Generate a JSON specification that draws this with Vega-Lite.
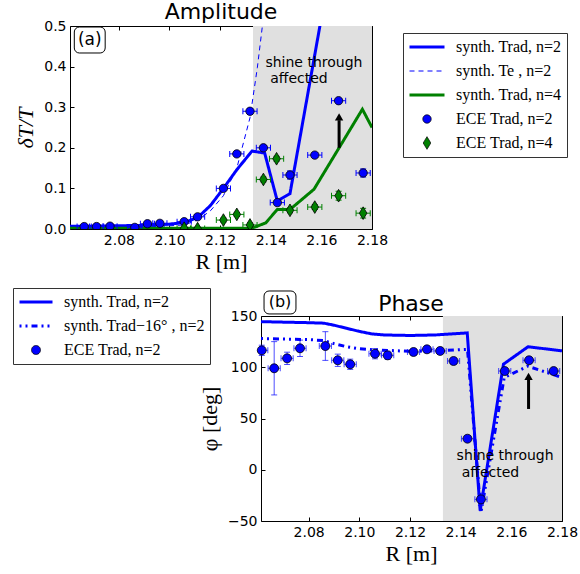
{
  "$schema": "https://vega.github.io/schema/vega-lite/v6.json",
  "padding": {"left": 12, "top": 0, "right": 2, "bottom": 2},
  "columns": 1,
  "spacing": 14,
  "resolve": {
    "scale": {"color": "independent", "fill": "independent", "stroke": "independent", "shape": "independent", "size": "independent", "strokeDash": "independent", "strokeWidth": "independent"},
    "legend": {"color": "independent", "fill": "independent", "stroke": "independent", "shape": "independent", "size": "independent", "strokeDash": "independent", "strokeWidth": "independent"}
  },
  "datasets": {
    "ampLines": [
      {"series": "synth. Trad, n=2", "R": 2.0607, "v": 0.007},
      {"series": "synth. Trad, n=2", "R": 2.07, "v": 0.007},
      {"series": "synth. Trad, n=2", "R": 2.08, "v": 0.008},
      {"series": "synth. Trad, n=2", "R": 2.09, "v": 0.009},
      {"series": "synth. Trad, n=2", "R": 2.095, "v": 0.010},
      {"series": "synth. Trad, n=2", "R": 2.1, "v": 0.012},
      {"series": "synth. Trad, n=2", "R": 2.1058, "v": 0.016},
      {"series": "synth. Trad, n=2", "R": 2.1111, "v": 0.028},
      {"series": "synth. Trad, n=2", "R": 2.1162, "v": 0.058},
      {"series": "synth. Trad, n=2", "R": 2.1213, "v": 0.100},
      {"series": "synth. Trad, n=2", "R": 2.1266, "v": 0.146},
      {"series": "synth. Trad, n=2", "R": 2.1326, "v": 0.192},
      {"series": "synth. Trad, n=2", "R": 2.1376, "v": 0.187},
      {"series": "synth. Trad, n=2", "R": 2.1426, "v": 0.069},
      {"series": "synth. Trad, n=2", "R": 2.1476, "v": 0.087},
      {"series": "synth. Trad, n=2", "R": 2.162, "v": 0.59},
      {"series": "synth. Te , n=2", "R": 2.0607, "v": 0.004},
      {"series": "synth. Te , n=2", "R": 2.08, "v": 0.004},
      {"series": "synth. Te , n=2", "R": 2.095, "v": 0.006},
      {"series": "synth. Te , n=2", "R": 2.1058, "v": 0.010},
      {"series": "synth. Te , n=2", "R": 2.1111, "v": 0.022},
      {"series": "synth. Te , n=2", "R": 2.1162, "v": 0.045},
      {"series": "synth. Te , n=2", "R": 2.1213, "v": 0.082},
      {"series": "synth. Te , n=2", "R": 2.1266, "v": 0.150},
      {"series": "synth. Te , n=2", "R": 2.1318, "v": 0.274},
      {"series": "synth. Te , n=2", "R": 2.1347, "v": 0.397},
      {"series": "synth. Te , n=2", "R": 2.1367, "v": 0.500},
      {"series": "synth. Te , n=2", "R": 2.139, "v": 0.62},
      {"series": "synth. Trad, n=4", "R": 2.0607, "v": 0.002},
      {"series": "synth. Trad, n=4", "R": 2.128, "v": 0.002},
      {"series": "synth. Trad, n=4", "R": 2.1326, "v": 0.002},
      {"series": "synth. Trad, n=4", "R": 2.138, "v": 0.015},
      {"series": "synth. Trad, n=4", "R": 2.1426, "v": 0.048},
      {"series": "synth. Trad, n=4", "R": 2.1476, "v": 0.048},
      {"series": "synth. Trad, n=4", "R": 2.1571, "v": 0.098},
      {"series": "synth. Trad, n=4", "R": 2.167, "v": 0.200},
      {"series": "synth. Trad, n=4", "R": 2.1762, "v": 0.295},
      {"series": "synth. Trad, n=4", "R": 2.18, "v": 0.25}
    ],
    "ampPts": [
      {"series": "ECE Trad, n=2", "R": 2.0663, "v": 0.006, "xlo": 2.0635, "xhi": 2.0691, "ylo": 0.003, "yhi": 0.009},
      {"series": "ECE Trad, n=2", "R": 2.0712, "v": 0.006, "xlo": 2.0684, "xhi": 2.074, "ylo": 0.003, "yhi": 0.009},
      {"series": "ECE Trad, n=2", "R": 2.0765, "v": 0.007, "xlo": 2.0737, "xhi": 2.0793, "ylo": 0.004, "yhi": 0.010},
      {"series": "ECE Trad, n=2", "R": 2.0863, "v": 0.004, "xlo": 2.0835, "xhi": 2.0891, "ylo": 0.001, "yhi": 0.007},
      {"series": "ECE Trad, n=2", "R": 2.0913, "v": 0.013, "xlo": 2.0885, "xhi": 2.0941, "ylo": 0.009, "yhi": 0.017},
      {"series": "ECE Trad, n=2", "R": 2.0962, "v": 0.014, "xlo": 2.0934, "xhi": 2.099, "ylo": 0.010, "yhi": 0.018},
      {"series": "ECE Trad, n=2", "R": 2.1058, "v": 0.018, "xlo": 2.103, "xhi": 2.1086, "ylo": 0.014, "yhi": 0.022},
      {"series": "ECE Trad, n=2", "R": 2.1111, "v": 0.030, "xlo": 2.1083, "xhi": 2.1139, "ylo": 0.026, "yhi": 0.034},
      {"series": "ECE Trad, n=2", "R": 2.1213, "v": 0.100, "xlo": 2.1185, "xhi": 2.1241, "ylo": 0.096, "yhi": 0.104},
      {"series": "ECE Trad, n=2", "R": 2.1266, "v": 0.185, "xlo": 2.1238, "xhi": 2.1294, "ylo": 0.180, "yhi": 0.190},
      {"series": "ECE Trad, n=2", "R": 2.1318, "v": 0.290, "xlo": 2.129, "xhi": 2.1346, "ylo": 0.285, "yhi": 0.295},
      {"series": "ECE Trad, n=2", "R": 2.1371, "v": 0.200, "xlo": 2.1343, "xhi": 2.1399, "ylo": 0.195, "yhi": 0.205},
      {"series": "ECE Trad, n=2", "R": 2.1426, "v": 0.065, "xlo": 2.1398, "xhi": 2.1454, "ylo": 0.060, "yhi": 0.070},
      {"series": "ECE Trad, n=2", "R": 2.1476, "v": 0.133, "xlo": 2.1448, "xhi": 2.1504, "ylo": 0.123, "yhi": 0.143},
      {"series": "ECE Trad, n=2", "R": 2.1574, "v": 0.182, "xlo": 2.1546, "xhi": 2.1602, "ylo": 0.177, "yhi": 0.187},
      {"series": "ECE Trad, n=2", "R": 2.1668, "v": 0.316, "xlo": 2.164, "xhi": 2.1696, "ylo": 0.311, "yhi": 0.321},
      {"series": "ECE Trad, n=2", "R": 2.1765, "v": 0.138, "xlo": 2.1737, "xhi": 2.1793, "ylo": 0.128, "yhi": 0.148},
      {"series": "ECE Trad, n=4", "R": 2.1058, "v": 0.002, "xlo": 2.103, "xhi": 2.1086, "ylo": 0.000, "yhi": 0.004},
      {"series": "ECE Trad, n=4", "R": 2.1111, "v": 0.001, "xlo": 2.1083, "xhi": 2.1139, "ylo": -0.002, "yhi": 0.004},
      {"series": "ECE Trad, n=4", "R": 2.1213, "v": 0.022, "xlo": 2.1185, "xhi": 2.1241, "ylo": 0.017, "yhi": 0.027},
      {"series": "ECE Trad, n=4", "R": 2.1266, "v": 0.036, "xlo": 2.1238, "xhi": 2.1294, "ylo": 0.031, "yhi": 0.041},
      {"series": "ECE Trad, n=4", "R": 2.1318, "v": 0.010, "xlo": 2.129, "xhi": 2.1346, "ylo": 0.005, "yhi": 0.015},
      {"series": "ECE Trad, n=4", "R": 2.1371, "v": 0.122, "xlo": 2.1343, "xhi": 2.1399, "ylo": 0.116, "yhi": 0.128},
      {"series": "ECE Trad, n=4", "R": 2.1423, "v": 0.173, "xlo": 2.1395, "xhi": 2.1451, "ylo": 0.167, "yhi": 0.179},
      {"series": "ECE Trad, n=4", "R": 2.1476, "v": 0.046, "xlo": 2.1448, "xhi": 2.1504, "ylo": 0.040, "yhi": 0.052},
      {"series": "ECE Trad, n=4", "R": 2.1574, "v": 0.054, "xlo": 2.1546, "xhi": 2.1602, "ylo": 0.048, "yhi": 0.060},
      {"series": "ECE Trad, n=4", "R": 2.1668, "v": 0.082, "xlo": 2.164, "xhi": 2.1696, "ylo": 0.071, "yhi": 0.093},
      {"series": "ECE Trad, n=4", "R": 2.1765, "v": 0.039, "xlo": 2.1737, "xhi": 2.1793, "ylo": 0.027, "yhi": 0.051}
    ],
    "phLines": [
      {"series": "synth. Trad, n=2", "R": 2.0612, "v": 144.5},
      {"series": "synth. Trad, n=2", "R": 2.07, "v": 144},
      {"series": "synth. Trad, n=2", "R": 2.08, "v": 143.5},
      {"series": "synth. Trad, n=2", "R": 2.086, "v": 143},
      {"series": "synth. Trad, n=2", "R": 2.09, "v": 141},
      {"series": "synth. Trad, n=2", "R": 2.095, "v": 138},
      {"series": "synth. Trad, n=2", "R": 2.1, "v": 135},
      {"series": "synth. Trad, n=2", "R": 2.105, "v": 132.5},
      {"series": "synth. Trad, n=2", "R": 2.11, "v": 131.5},
      {"series": "synth. Trad, n=2", "R": 2.12, "v": 131},
      {"series": "synth. Trad, n=2", "R": 2.13, "v": 131.5},
      {"series": "synth. Trad, n=2", "R": 2.1426, "v": 133.5},
      {"series": "synth. Trad, n=2", "R": 2.1477, "v": -40},
      {"series": "synth. Trad, n=2", "R": 2.1569, "v": 103},
      {"series": "synth. Trad, n=2", "R": 2.1666, "v": 120},
      {"series": "synth. Trad, n=2", "R": 2.18, "v": 116},
      {"series": "synth. Trad−16° , n=2", "R": 2.0612, "v": 128},
      {"series": "synth. Trad−16° , n=2", "R": 2.08, "v": 127},
      {"series": "synth. Trad−16° , n=2", "R": 2.086, "v": 126},
      {"series": "synth. Trad−16° , n=2", "R": 2.09, "v": 123},
      {"series": "synth. Trad−16° , n=2", "R": 2.095, "v": 120},
      {"series": "synth. Trad−16° , n=2", "R": 2.1, "v": 118},
      {"series": "synth. Trad−16° , n=2", "R": 2.106, "v": 117},
      {"series": "synth. Trad−16° , n=2", "R": 2.12, "v": 115.5},
      {"series": "synth. Trad−16° , n=2", "R": 2.13, "v": 116},
      {"series": "synth. Trad−16° , n=2", "R": 2.1427, "v": 117.5},
      {"series": "synth. Trad−16° , n=2", "R": 2.148, "v": -42},
      {"series": "synth. Trad−16° , n=2", "R": 2.1572, "v": 90},
      {"series": "synth. Trad−16° , n=2", "R": 2.1665, "v": 101},
      {"series": "synth. Trad−16° , n=2", "R": 2.18, "v": 90}
    ],
    "phPts": [
      {"series": "ECE Trad, n=2", "R": 2.0615, "v": 116.5, "xlo": 2.0612, "xhi": 2.0639, "ylo": 111.5, "yhi": 121.5},
      {"series": "ECE Trad, n=2", "R": 2.0664, "v": 99, "xlo": 2.064, "xhi": 2.0688, "ylo": 73, "yhi": 125},
      {"series": "ECE Trad, n=2", "R": 2.0715, "v": 108.7, "xlo": 2.0691, "xhi": 2.0739, "ylo": 102.7, "yhi": 114.7},
      {"series": "ECE Trad, n=2", "R": 2.0766, "v": 118.5, "xlo": 2.0742, "xhi": 2.079, "ylo": 110.5, "yhi": 126.5},
      {"series": "ECE Trad, n=2", "R": 2.0866, "v": 120.7, "xlo": 2.0842, "xhi": 2.089, "ylo": 106.7, "yhi": 134.7},
      {"series": "ECE Trad, n=2", "R": 2.0915, "v": 106.8, "xlo": 2.0891, "xhi": 2.0939, "ylo": 100.8, "yhi": 112.8},
      {"series": "ECE Trad, n=2", "R": 2.0964, "v": 102.9, "xlo": 2.094, "xhi": 2.0988, "ylo": 97.9, "yhi": 107.9},
      {"series": "ECE Trad, n=2", "R": 2.1062, "v": 113.2, "xlo": 2.1038, "xhi": 2.1086, "ylo": 108.2, "yhi": 118.2},
      {"series": "ECE Trad, n=2", "R": 2.1112, "v": 111.6, "xlo": 2.1088, "xhi": 2.1136, "ylo": 107.6, "yhi": 115.6},
      {"series": "ECE Trad, n=2", "R": 2.1214, "v": 114.9, "xlo": 2.119, "xhi": 2.1238, "ylo": 111.9, "yhi": 117.9},
      {"series": "ECE Trad, n=2", "R": 2.1267, "v": 117.5, "xlo": 2.1243, "xhi": 2.1291, "ylo": 114.5, "yhi": 120.5},
      {"series": "ECE Trad, n=2", "R": 2.1319, "v": 115.9, "xlo": 2.1295, "xhi": 2.1343, "ylo": 112.9, "yhi": 118.9},
      {"series": "ECE Trad, n=2", "R": 2.1372, "v": 106.1, "xlo": 2.1348, "xhi": 2.1396, "ylo": 103.1, "yhi": 109.1},
      {"series": "ECE Trad, n=2", "R": 2.1427, "v": 30.3, "xlo": 2.1403, "xhi": 2.1451, "ylo": 27.3, "yhi": 33.3},
      {"series": "ECE Trad, n=2", "R": 2.148, "v": -28.9, "xlo": 2.1456, "xhi": 2.1504, "ylo": -34.9, "yhi": -22.9},
      {"series": "ECE Trad, n=2", "R": 2.1574, "v": 96.3, "xlo": 2.155, "xhi": 2.1598, "ylo": 93.3, "yhi": 99.3},
      {"series": "ECE Trad, n=2", "R": 2.167, "v": 106.8, "xlo": 2.1646, "xhi": 2.1694, "ylo": 103.8, "yhi": 109.8},
      {"series": "ECE Trad, n=2", "R": 2.1767, "v": 96.3, "xlo": 2.1743, "xhi": 2.1791, "ylo": 93.3, "yhi": 99.3}
    ]
  },
  "concat": [
    {
      "width": 302,
      "height": 203,
      "title": {"text": "Amplitude", "frame": "group", "offset": -5},
      "resolve": {"axis": {"x": "independent", "y": "independent"}},
      "layer": [
        {
          "data": {"values": [{"R": 2.133, "R2": 2.18}]},
          "mark": {"type": "rect", "color": "#e0e0e0"},
          "encoding": {
            "x": {"field": "R", "type": "quantitative", "scale": {"domain": [2.0607, 2.18], "nice": false, "zero": false},
                  "axis": {"title": "R [m]", "values": [2.08, 2.1, 2.12, 2.14, 2.16, 2.18], "format": ".2f"}},
            "x2": {"field": "R2"}
          }
        },
        {
          "data": {"name": "ampLines"},
          "mark": {"type": "line", "clip": true},
          "encoding": {
            "x": {"field": "R", "type": "quantitative", "axis": {"orient": "top", "labels": false, "title": null, "values": [2.08, 2.1, 2.12, 2.14, 2.16, 2.18]}},
            "y": {"field": "v", "type": "quantitative", "scale": {"domain": [0, 0.5], "nice": false},
                  "axis": {"title": "δT/T", "values": [0, 0.1, 0.2, 0.3, 0.4, 0.5], "format": ".1f", "titleFontStyle": "italic"}},
            "stroke": {"field": "series", "type": "nominal",
              "scale": {"domain": ["synth. Trad, n=2", "synth. Te , n=2", "synth. Trad, n=4", "ECE Trad, n=2", "ECE Trad, n=4"], "range": ["#0000ff", "#0000ff", "#008000", "#000000", "#000000"]},
              "legend": {"title": null, "orient": "none", "legendX": 333, "legendY": 7}},
            "strokeDash": {"field": "series", "type": "nominal",
              "scale": {"domain": ["synth. Trad, n=2", "synth. Te , n=2", "synth. Trad, n=4", "ECE Trad, n=2", "ECE Trad, n=4"], "range": [[1, 0], [5, 4], [1, 0], [1, 0], [1, 0]]},
              "legend": {"title": null, "orient": "none", "legendX": 333, "legendY": 7}},
            "strokeWidth": {"field": "series", "type": "nominal",
              "scale": {"type": "ordinal", "domain": ["synth. Trad, n=2", "synth. Te , n=2", "synth. Trad, n=4", "ECE Trad, n=2", "ECE Trad, n=4"], "range": [3, 1, 3, 0.8, 0.8]},
              "legend": {"title": null, "orient": "none", "legendX": 333, "legendY": 7}}
          }
        },
        {
          "data": {"name": "ampPts"},
          "mark": {"type": "rule", "strokeWidth": 1, "clip": true},
          "encoding": {
            "x": {"field": "xlo", "type": "quantitative", "axis": null},
            "x2": {"field": "xhi"},
            "y": {"field": "v", "type": "quantitative", "axis": null},
            "color": {"field": "series", "type": "nominal", "scale": {"domain": ["ECE Trad, n=2", "ECE Trad, n=4"], "range": ["#0000ff", "#008000"]}, "legend": null}
          }
        },
        {
          "data": {"name": "ampPts"},
          "mark": {"type": "rule", "strokeWidth": 1, "clip": true},
          "encoding": {
            "x": {"field": "R", "type": "quantitative", "axis": null},
            "y": {"field": "ylo", "type": "quantitative", "axis": null},
            "y2": {"field": "yhi"},
            "color": {"field": "series", "type": "nominal", "legend": null}
          }
        },
        {
          "data": {"name": "ampPts"},
          "mark": {"type": "tick", "orient": "vertical", "size": 6, "thickness": 1, "opacity": 1, "clip": true},
          "encoding": {
            "x": {"field": "xlo", "type": "quantitative", "axis": null},
            "y": {"field": "v", "type": "quantitative", "axis": null},
            "color": {"field": "series", "type": "nominal", "legend": null}
          }
        },
        {
          "data": {"name": "ampPts"},
          "mark": {"type": "tick", "orient": "vertical", "size": 6, "thickness": 1, "opacity": 1, "clip": true},
          "encoding": {
            "x": {"field": "xhi", "type": "quantitative", "axis": null},
            "y": {"field": "v", "type": "quantitative", "axis": null},
            "color": {"field": "series", "type": "nominal", "legend": null}
          }
        },
        {
          "data": {"name": "ampPts"},
          "mark": {"type": "tick", "orient": "horizontal", "size": 6, "thickness": 1, "opacity": 1, "clip": true},
          "encoding": {
            "x": {"field": "R", "type": "quantitative", "axis": null},
            "y": {"field": "ylo", "type": "quantitative", "axis": null},
            "color": {"field": "series", "type": "nominal", "legend": null}
          }
        },
        {
          "data": {"name": "ampPts"},
          "mark": {"type": "tick", "orient": "horizontal", "size": 6, "thickness": 1, "opacity": 1, "clip": true},
          "encoding": {
            "x": {"field": "R", "type": "quantitative", "axis": null},
            "y": {"field": "yhi", "type": "quantitative", "axis": null},
            "color": {"field": "series", "type": "nominal", "legend": null}
          }
        },
        {
          "data": {"name": "ampPts"},
          "mark": {"type": "point", "filled": true, "opacity": 1, "strokeWidth": 0.8, "clip": true},
          "encoding": {
            "x": {"field": "R", "type": "quantitative", "axis": null},
            "y": {"field": "v", "type": "quantitative", "axis": {"orient": "right", "labels": false, "title": null, "values": [0, 0.1, 0.2, 0.3, 0.4, 0.5]}},
            "fill": {"field": "series", "type": "nominal",
              "scale": {"domain": ["synth. Trad, n=2", "synth. Te , n=2", "synth. Trad, n=4", "ECE Trad, n=2", "ECE Trad, n=4"], "range": ["transparent", "transparent", "transparent", "#0000ff", "#008000"]},
              "legend": {"title": null, "orient": "none", "legendX": 333, "legendY": 7}},
            "stroke": {"field": "series", "type": "nominal", "legend": {"title": null, "orient": "none", "legendX": 333, "legendY": 7}},
            "shape": {"field": "series", "type": "nominal",
              "scale": {"domain": ["synth. Trad, n=2", "synth. Te , n=2", "synth. Trad, n=4", "ECE Trad, n=2", "ECE Trad, n=4"], "range": ["stroke", "stroke", "stroke", "circle", "M0,-1L0.6,0L0,1L-0.6,0Z"]},
              "legend": {"title": null, "orient": "none", "legendX": 333, "legendY": 7}},
            "size": {"field": "series", "type": "nominal",
              "scale": {"type": "ordinal", "domain": ["synth. Trad, n=2", "synth. Te , n=2", "synth. Trad, n=4", "ECE Trad, n=2", "ECE Trad, n=4"], "range": [1225, 1225, 1225, 70, 160]},
              "legend": {"title": null, "orient": "none", "legendX": 333, "legendY": 7}}
          }
        },
        {
          "data": {"values": [{"R": 2.167, "v": 0.2, "v2": 0.268}]},
          "mark": {"type": "rule", "strokeWidth": 3, "color": "black"},
          "encoding": {"x": {"field": "R", "type": "quantitative", "axis": null}, "y": {"field": "v", "type": "quantitative", "axis": null}, "y2": {"field": "v2"}}
        },
        {
          "data": {"values": [{"R": 2.167, "v": 0.276}]},
          "mark": {"type": "point", "shape": "triangle-up", "filled": true, "color": "black", "opacity": 1, "size": 70},
          "encoding": {"x": {"field": "R", "type": "quantitative", "axis": null}, "y": {"field": "v", "type": "quantitative", "axis": null}}
        },
        {
          "data": {"values": [{"R": 2.1379, "v": 0.409, "t": "shine through"}, {"R": 2.1398, "v": 0.3695, "t": "affected"}]},
          "mark": {"type": "text", "align": "left", "baseline": "middle", "font": "DejaVu Sans", "fontSize": 14, "color": "black"},
          "encoding": {"x": {"field": "R", "type": "quantitative", "axis": null}, "y": {"field": "v", "type": "quantitative", "axis": null}, "text": {"field": "t"}}
        },
        {
          "data": {"values": [{"R": 2.0624, "R2": 2.0746, "v": 0.4975, "v2": 0.4335}]},
          "mark": {"type": "rect", "fill": "white", "stroke": "black", "strokeWidth": 1, "cornerRadius": 5},
          "encoding": {"x": {"field": "R", "type": "quantitative", "axis": null}, "x2": {"field": "R2"}, "y": {"field": "v", "type": "quantitative", "axis": null}, "y2": {"field": "v2"}}
        },
        {
          "data": {"values": [{"R": 2.0685, "v": 0.4655, "t": "(a)"}]},
          "mark": {"type": "text", "align": "center", "baseline": "middle", "font": "DejaVu Sans", "fontSize": 17, "color": "black"},
          "encoding": {"x": {"field": "R", "type": "quantitative", "axis": null}, "y": {"field": "v", "type": "quantitative", "axis": null}, "text": {"field": "t"}}
        }
      ]
    },
    {
      "width": 492,
      "height": 205,
      "view": {"stroke": null},
      "title": {"text": "Phase", "frame": "group", "offset": -28, "dx": 95},
      "resolve": {"axis": {"x": "independent", "y": "independent"}},
      "layer": [
        {
          "data": {"values": [{"R": 2.133, "R2": 2.18}]},
          "mark": {"type": "rect", "color": "#e0e0e0"},
          "encoding": {
            "x": {"field": "R", "type": "quantitative", "scale": {"domain": [2.0612, 2.18], "range": [191, 492], "nice": false, "zero": false},
                  "axis": {"title": "R [m]", "values": [2.08, 2.1, 2.12, 2.14, 2.16, 2.18], "format": ".2f", "domain": true, "domainColor": "black", "titleX": 341}},
            "x2": {"field": "R2"}
          }
        },
        {
          "data": {"name": "phLines"},
          "mark": {"type": "line", "clip": true},
          "encoding": {
            "x": {"field": "R", "type": "quantitative", "axis": {"orient": "top", "labels": false, "title": null, "values": [2.08, 2.1, 2.12, 2.14, 2.16, 2.18], "domain": true, "domainColor": "black"}},
            "y": {"field": "v", "type": "quantitative", "scale": {"domain": [-50, 150], "nice": false, "zero": false},
                  "axis": {"title": "φ [deg]", "values": [-50, 0, 50, 100, 150], "format": "d", "domain": true, "domainColor": "black", "offset": -191}},
            "stroke": {"field": "series", "type": "nominal",
              "scale": {"domain": ["synth. Trad, n=2", "synth. Trad−16° , n=2", "ECE Trad, n=2"], "range": ["#0000ff", "#0000ff", "#000000"]},
              "legend": {"title": null, "orient": "none", "legendX": -57, "legendY": -28}},
            "strokeDash": {"field": "series", "type": "nominal",
              "scale": {"domain": ["synth. Trad, n=2", "synth. Trad−16° , n=2", "ECE Trad, n=2"], "range": [[1, 0], [2, 4, 2, 4, 6, 4], [1, 0]]},
              "legend": {"title": null, "orient": "none", "legendX": -57, "legendY": -28}},
            "strokeWidth": {"field": "series", "type": "nominal",
              "scale": {"type": "ordinal", "domain": ["synth. Trad, n=2", "synth. Trad−16° , n=2", "ECE Trad, n=2"], "range": [3, 3, 0.8]},
              "legend": {"title": null, "orient": "none", "legendX": -57, "legendY": -28}}
          }
        },
        {
          "data": {"name": "phPts"},
          "mark": {"type": "rule", "strokeWidth": 1, "clip": true, "color": "#0000ff", "opacity": 0.7},
          "encoding": {
            "x": {"field": "xlo", "type": "quantitative", "axis": null},
            "x2": {"field": "xhi"},
            "y": {"field": "v", "type": "quantitative", "axis": null}
          }
        },
        {
          "data": {"name": "phPts"},
          "mark": {"type": "rule", "strokeWidth": 1, "clip": true, "color": "#0000ff", "opacity": 0.7},
          "encoding": {
            "x": {"field": "R", "type": "quantitative", "axis": null},
            "y": {"field": "ylo", "type": "quantitative", "axis": null},
            "y2": {"field": "yhi"}
          }
        },
        {
          "data": {"name": "phPts"},
          "mark": {"type": "tick", "orient": "vertical", "size": 6, "thickness": 1, "opacity": 0.7, "color": "#0000ff", "clip": true},
          "encoding": {"x": {"field": "xlo", "type": "quantitative", "axis": null}, "y": {"field": "v", "type": "quantitative", "axis": null}}
        },
        {
          "data": {"name": "phPts"},
          "mark": {"type": "tick", "orient": "vertical", "size": 6, "thickness": 1, "opacity": 0.7, "color": "#0000ff", "clip": true},
          "encoding": {"x": {"field": "xhi", "type": "quantitative", "axis": null}, "y": {"field": "v", "type": "quantitative", "axis": null}}
        },
        {
          "data": {"name": "phPts"},
          "mark": {"type": "tick", "orient": "horizontal", "size": 6, "thickness": 1, "opacity": 0.7, "color": "#0000ff", "clip": true},
          "encoding": {"x": {"field": "R", "type": "quantitative", "axis": null}, "y": {"field": "ylo", "type": "quantitative", "axis": null}}
        },
        {
          "data": {"name": "phPts"},
          "mark": {"type": "tick", "orient": "horizontal", "size": 6, "thickness": 1, "opacity": 0.7, "color": "#0000ff", "clip": true},
          "encoding": {"x": {"field": "R", "type": "quantitative", "axis": null}, "y": {"field": "yhi", "type": "quantitative", "axis": null}}
        },
        {
          "data": {"name": "phPts"},
          "mark": {"type": "point", "filled": true, "opacity": 1, "strokeWidth": 0.8, "clip": true},
          "encoding": {
            "x": {"field": "R", "type": "quantitative", "axis": null},
            "y": {"field": "v", "type": "quantitative", "axis": {"orient": "right", "labels": false, "title": null, "values": [-50, 0, 50, 100, 150], "domain": true, "domainColor": "black"}},
            "fill": {"field": "series", "type": "nominal",
              "scale": {"domain": ["synth. Trad, n=2", "synth. Trad−16° , n=2", "ECE Trad, n=2"], "range": ["transparent", "transparent", "#0000ff"]},
              "legend": {"title": null, "orient": "none", "legendX": -57, "legendY": -28}},
            "stroke": {"field": "series", "type": "nominal", "legend": {"title": null, "orient": "none", "legendX": -57, "legendY": -28}},
            "shape": {"field": "series", "type": "nominal",
              "scale": {"domain": ["synth. Trad, n=2", "synth. Trad−16° , n=2", "ECE Trad, n=2"], "range": ["stroke", "stroke", "circle"]},
              "legend": {"title": null, "orient": "none", "legendX": -57, "legendY": -28}},
            "size": {"field": "series", "type": "nominal",
              "scale": {"type": "ordinal", "domain": ["synth. Trad, n=2", "synth. Trad−16° , n=2", "ECE Trad, n=2"], "range": [1089, 1089, 80]},
              "legend": {"title": null, "orient": "none", "legendX": -57, "legendY": -28}}
          }
        },
        {
          "data": {"values": [{"R": 2.1668, "v": 59.3, "v2": 88}]},
          "mark": {"type": "rule", "strokeWidth": 3, "color": "black"},
          "encoding": {"x": {"field": "R", "type": "quantitative", "axis": null}, "y": {"field": "v", "type": "quantitative", "axis": null}, "y2": {"field": "v2"}}
        },
        {
          "data": {"values": [{"R": 2.1668, "v": 91}]},
          "mark": {"type": "point", "shape": "triangle-up", "filled": true, "color": "black", "opacity": 1, "size": 70},
          "encoding": {"x": {"field": "R", "type": "quantitative", "axis": null}, "y": {"field": "v", "type": "quantitative", "axis": null}}
        },
        {
          "data": {"values": [{"R": 2.1384, "v": 13.4, "t": "shine through"}, {"R": 2.1404, "v": -2.9, "t": "affected"}]},
          "mark": {"type": "text", "align": "left", "baseline": "middle", "font": "DejaVu Sans", "fontSize": 14, "color": "black"},
          "encoding": {"x": {"field": "R", "type": "quantitative", "axis": null}, "y": {"field": "v", "type": "quantitative", "axis": null}, "text": {"field": "t"}}
        },
        {
          "data": {"values": [{"R": 2.0624, "R2": 2.075, "v": 174.4, "v2": 152.0}]},
          "mark": {"type": "rect", "fill": "white", "stroke": "black", "strokeWidth": 1, "cornerRadius": 5},
          "encoding": {"x": {"field": "R", "type": "quantitative", "axis": null}, "x2": {"field": "R2"}, "y": {"field": "v", "type": "quantitative", "axis": null}, "y2": {"field": "v2"}}
        },
        {
          "data": {"values": [{"R": 2.0687, "v": 163.2, "t": "(b)"}]},
          "mark": {"type": "text", "align": "center", "baseline": "middle", "font": "DejaVu Sans", "fontSize": 16, "color": "black"},
          "encoding": {"x": {"field": "R", "type": "quantitative", "axis": null}, "y": {"field": "v", "type": "quantitative", "axis": null}, "text": {"field": "t"}}
        }
      ]
    }
  ],
  "config": {
    "view": {"stroke": "black", "strokeWidth": 1},
    "axis": {"domain": false, "grid": false, "labelFlush": false, "labelFont": "DejaVu Sans", "labelFontSize": 14, "labelColor": "black", "tickColor": "black", "tickSize": -4, "labelPadding": 8, "titleFont": "Liberation Serif", "titleFontSize": 22, "titleFontWeight": "normal", "titleColor": "black"},
    "axisX": {"titlePadding": 4},
    "axisY": {"titlePadding": 6},
    "legend": {"labelFont": "Liberation Serif", "labelFontSize": 16, "labelColor": "black", "strokeColor": "#333333", "fillColor": "white", "padding": 5, "labelOffset": 10, "rowPadding": 6, "clipHeight": 18, "cornerRadius": 0},
    "title": {"font": "DejaVu Sans", "fontSize": 22, "fontWeight": "normal", "color": "black"}
  }
}
